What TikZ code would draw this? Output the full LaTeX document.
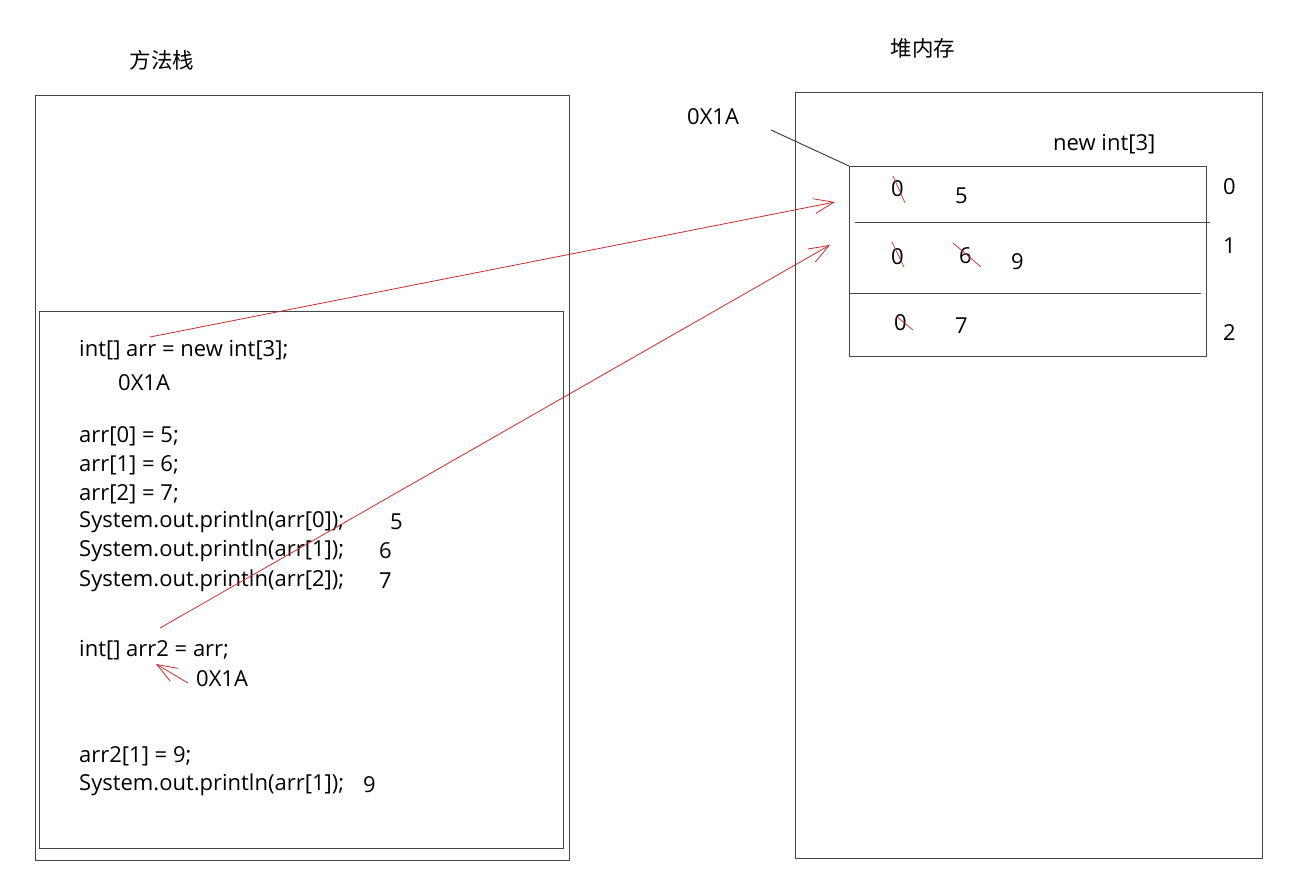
\documentclass[tikz,border=0pt]{standalone}
\usepackage{fontspec}
\setmainfont{Open Sans}
\newfontfamily\cjkfont{Noto Sans CJK SC}
\usetikzlibrary{arrows.meta}
\definecolor{redink}{RGB}{200,45,45}
\definecolor{boxline}{RGB}{70,70,70}
\begin{document}
\begin{tikzpicture}[x=1pt,y=-1pt,
  box/.style={draw=boxline,line width=1pt},
  txt/.style={anchor=west,inner sep=0pt,font=\fontsize{22}{24}\selectfont},
  ttl/.style={anchor=center,inner sep=0pt,font=\cjkfont\fontsize{21.5}{23}\selectfont},
  strike/.style={draw=redink,line width=0.7pt},
  ref/.style={draw=redink,line width=0.8pt,-{Straight Barb[length=20pt,width=15pt]}}]
\useasboundingbox[fill=white] (0,0) rectangle (1289,880);
% titles
\node[ttl] (t1) at (162,60) {方法栈};
\node[ttl] (t2) at (923,48) {堆内存};
% boxes
\draw[box] (35,96) rectangle (569,860);
\draw[box] (39,311) rectangle (563,848);
\draw[box] (795,93) rectangle (1262,858);
\draw[box] (849,166) rectangle (1206,356);
\draw[box] (855,222) -- (1210,222);
\draw[box] (849,293) -- (1201,293);
\coordinate (arrcorner) at (849,166);
\coordinate (addrend) at (771,130);
\draw[box] (addrend) -- (arrcorner);
% heap labels
\node[txt] (haddr) at (687,117) {0X1A};
\node[txt] (hnew) at (1053,144) {new int[3]};
\node[txt] (i0) at (1223,187) {0};
\node[txt] (i1) at (1223,246) {1};
\node[txt] (i2) at (1223,333) {2};
\node[txt] (v00) at (891,189) {0};
\node[txt] (v05) at (955,196) {5};
\node[txt] (v10) at (891,257) {0};
\node[txt] (v16) at (959,256) {6};
\node[txt] (v19) at (1011,262) {9};
\node[txt] (v20) at (894,323) {0};
\node[txt] (v27) at (955,326) {7};
% strikes
\draw[strike] (893,176) -- (905,203);
\draw[strike] (892,242) -- (904,267);
\draw[strike] (896,316) -- (913,330);
\draw[strike] (953,243) -- (981,267);
% code
\node[txt] (c1) at (79,350) {int[] arr = new int[3];};
\node[txt] (c1a) at (118,383) {0X1A};
\node[txt] (c2) at (79,436) {arr[0] = 5;};
\node[txt] (c3) at (79,465) {arr[1] = 6;};
\node[txt] (c4) at (79,494) {arr[2] = 7;};
\node[txt] (c5) at (79,522) {System.out.println(arr[0]);};
\node[txt] (o5) at (390,522) {5};
\node[txt] (c6) at (79,551) {System.out.println(arr[1]);};
\node[txt] (o6) at (379,551) {6};
\node[txt] (c7) at (79,581) {System.out.println(arr[2]);};
\node[txt] (o7) at (379,581) {7};
\node[txt] (c8) at (79,650) {int[] arr2 = arr;};
\node[txt] (c8a) at (196,679) {0X1A};
\node[txt] (c9) at (79,756) {arr2[1] = 9;};
\node[txt] (c10) at (79,785) {System.out.println(arr[1]);};
\node[txt] (o10) at (363,785) {9};
% references
\coordinate (r1s) at (150,337);
\coordinate (r1e) at (835,202);
\coordinate (r2s) at (160,628);
\coordinate (r2e) at (830,245);
\coordinate (r3s) at (188,683);
\coordinate (r3e) at (156,664);
\draw[ref] (r1s) -- (r1e);
\draw[ref] (r2s) -- (r2e);
\draw[ref] (r3s) -- (r3e);
\end{tikzpicture}
\end{document}
